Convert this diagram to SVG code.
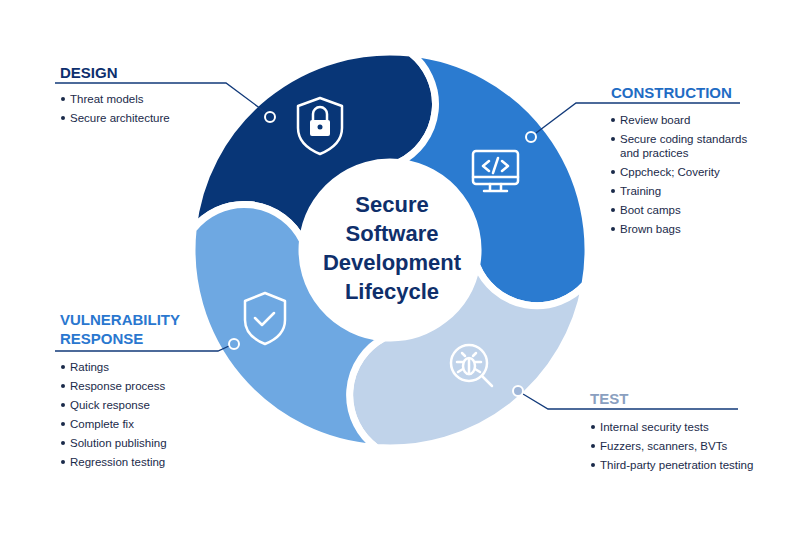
<svg xmlns="http://www.w3.org/2000/svg" width="800" height="533" viewBox="0 0 800 533">
<style>
.seg{stroke:#fff;stroke-width:7;stroke-linejoin:round}
.ic{fill:none;stroke:#fff;stroke-width:2.5;stroke-linejoin:round;stroke-linecap:round}
.ld{fill:none;stroke:#123a7a;stroke-width:1.3}
.dot{stroke:#fff;stroke-width:2}
.h{font-family:"Liberation Sans",Arial,sans-serif;font-weight:bold;font-size:15px}
.b{font-family:"Liberation Sans",Arial,sans-serif;font-size:11.5px;fill:#1a2a4a}
.c{font-family:"Liberation Sans",Arial,sans-serif;font-weight:bold;font-size:22px;fill:#0f2f6b;text-anchor:middle}
</style>
<rect width="800" height="533" fill="#fff"/>
<g id="design"><path class="seg" fill="#083677" d="M193.1,229.3 A198 198 0 0 1 410.7,53.1 A65 65 0 0 1 399.2,162.5 A88 88 0 0 0 302.5,240.8 A65 65 0 0 0 193.1,229.3 Z"/>
<path class="ic" d="M320,98 L342,106 L342,128 Q342,145 320,154 Q298,145 298,128 L298,106 Z"/>
<rect x="310" y="120" width="20" height="16" rx="2" fill="#fff"/><path class="ic" d="M313,120 v-6 a7 7 0 0 1 14 0 v6"/><circle cx="320" cy="127" r="2.5" fill="#083677"/></g>
<g id="construction"><path class="seg" fill="#2b7bd0" d="M410.7,53.1 A198 198 0 0 1 585,284.4 A65 65 0 0 1 476.7,265.3 A88 88 0 0 0 399.2,162.5 A65 65 0 0 0 410.7,53.1 Z"/>
<rect class="ic" x="473" y="151" width="45" height="33" rx="3"/><path class="ic" d="M473,177 h45 M490,184 v6 M501,184 v6 M484,191 h23 M489,161 l-6,5 6,5 M502,161 l6,5 -6,5 M498,158 l-5,15"/></g>
<g id="test"><path class="seg" fill="#c0d3ea" d="M585,284.4 A198 198 0 0 1 376.2,447.5 A65 65 0 0 1 383.9,337.8 A88 88 0 0 0 476.7,265.3 A65 65 0 0 0 585,284.4 Z"/>
<circle class="ic" cx="469" cy="363" r="18"/><path class="ic" d="M482,376 l10,10" stroke-width="5"/>
<ellipse class="ic" cx="469" cy="366" rx="6" ry="8" stroke-width="2"/><path class="ic" stroke-width="2" d="M465,356 l-3,-3 M473,356 l3,-3 M463,362 h-6 M475,362 h6 M463,369 l-5,3 M475,369 l5,3 M469,359 v15"/></g>
<g id="vulnerability"><path class="seg" fill="#6ea8e2" d="M376.2,447.5 A198 198 0 0 1 193.1,229.3 A65 65 0 0 1 302.5,240.8 A88 88 0 0 0 383.9,337.8 A65 65 0 0 0 376.2,447.5 Z"/>
<path class="ic" d="M265,293 L285,301 L285,320 Q285,336 265,344 Q245,336 245,320 L245,301 Z"/><path class="ic" d="M255,318 l7,7 12,-12"/></g>
<g id="center"><circle cx="391" cy="251" r="84" fill="#fff"/>
<text class="c" x="392" y="212">Secure</text><text class="c" x="392" y="241">Software</text><text class="c" x="392" y="270">Development</text><text class="c" x="392" y="299">Lifecycle</text></g>
<g id="connectors">
<path class="ld" d="M55,83 H226 L265,112"/><circle class="dot" cx="270" cy="117" r="5" fill="#083677"/>
<path class="ld" d="M740,103 H576 L536,133"/><circle class="dot" cx="531" cy="137" r="5" fill="#2b7bd0"/>
<path class="ld" d="M55,351 H218 L229,346"/><circle class="dot" cx="234" cy="344" r="5" fill="#6ea8e2"/>
<path class="ld" d="M738,409 H548 L523,394"/><circle cx="518" cy="391" r="5" fill="#9fb6d8" stroke="#fff" stroke-width="2"/>
</g>
<g id="labels">
<text class="h" x="60" y="78" fill="#0d2f6e">DESIGN</text>
<text class="b" x="70" y="103">Threat models</text><text class="b" x="70" y="122">Secure architecture</text>
<g fill="#1a2a4a"><circle cx="63" cy="99" r="2"/><circle cx="63" cy="118" r="2"/></g>
<text class="h" x="611" y="98" fill="#1f6cc4">CONSTRUCTION</text>
<g fill="#1a2a4a"><circle cx="613" cy="120" r="2"/><circle cx="613" cy="139" r="2"/><circle cx="613" cy="172" r="2"/><circle cx="613" cy="191" r="2"/><circle cx="613" cy="210" r="2"/><circle cx="613" cy="229" r="2"/></g>
<text class="b" x="620" y="124">Review board</text><text class="b" x="620" y="143">Secure coding standards</text><text class="b" x="620" y="157">and practices</text><text class="b" x="620" y="176">Cppcheck; Coverity</text><text class="b" x="620" y="195">Training</text><text class="b" x="620" y="214">Boot camps</text><text class="b" x="620" y="233">Brown bags</text>
<text class="h" x="60" y="325" fill="#2a77cf">VULNERABILITY</text><text class="h" x="60" y="344" fill="#2a77cf">RESPONSE</text>
<g fill="#1a2a4a"><circle cx="63" cy="367" r="2"/><circle cx="63" cy="386" r="2"/><circle cx="63" cy="405" r="2"/><circle cx="63" cy="424" r="2"/><circle cx="63" cy="443" r="2"/><circle cx="63" cy="462" r="2"/></g>
<text class="b" x="70" y="371">Ratings</text><text class="b" x="70" y="390">Response process</text><text class="b" x="70" y="409">Quick response</text><text class="b" x="70" y="428">Complete fix</text><text class="b" x="70" y="447">Solution publishing</text><text class="b" x="70" y="466">Regression testing</text>
<text class="h" x="590" y="404" fill="#8a9fc0">TEST</text>
<g fill="#1a2a4a"><circle cx="593" cy="427" r="2"/><circle cx="593" cy="446" r="2"/><circle cx="593" cy="465" r="2"/></g>
<text class="b" x="600" y="431">Internal security tests</text><text class="b" x="600" y="450">Fuzzers, scanners, BVTs</text><text class="b" x="600" y="469">Third-party penetration testing</text>
</g>
</svg>
